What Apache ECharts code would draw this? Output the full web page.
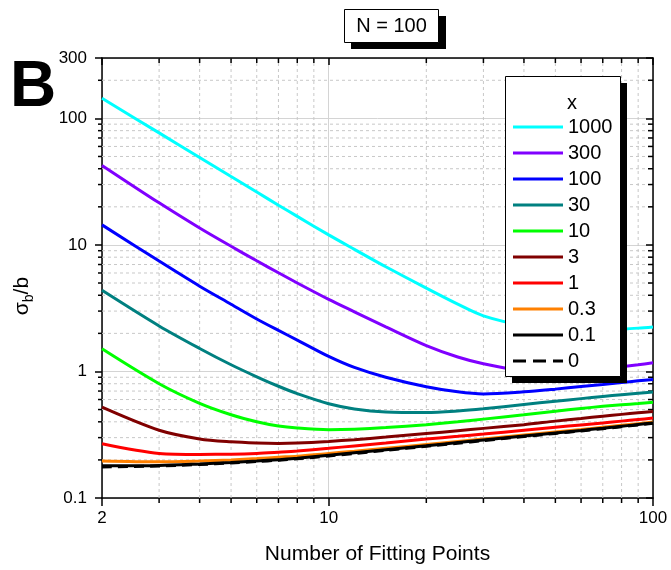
<!DOCTYPE html>
<html>
<head>
<meta charset="utf-8">
<script src="https://cdn.jsdelivr.net/npm/echarts@6/dist/echarts.min.js"></script>
<style>
  html, body { margin: 0; padding: 0; background: #fff; }
  #chart { width: 671px; height: 570px; }
</style>
</head>
<body>
<div id="chart"></div>
<script>
// number of fitting points
const nPts = [2, 3, 4, 5, 6, 7, 8, 10, 12, 15, 20, 25, 30, 40, 50, 60, 70, 80, 90, 100];

// sigma_b / b for each x
const x1000 = [144, 76.8, 49.1, 34.7, 26.2, 20.6, 16.8, 12.0, 9.23, 6.72, 4.55, 3.4, 2.75, 2.3, 2.17, 2.13, 2.13, 2.16, 2.2, 2.25];
const x300 = [42.5, 21.5, 13.6, 9.75, 7.49, 6.02, 5.0, 3.71, 2.96, 2.25, 1.6, 1.3, 1.15, 1.01, 0.98, 1.0, 1.04, 1.09, 1.13, 1.17];
const x100 = [14.4, 7.45, 4.72, 3.4, 2.6, 2.11, 1.77, 1.315, 1.076, 0.9, 0.757, 0.69, 0.665, 0.69, 0.725, 0.76, 0.79, 0.818, 0.843, 0.865];
const x30 = [4.38, 2.29, 1.52, 1.13, 0.908, 0.764, 0.668, 0.556, 0.506, 0.479, 0.4745, 0.4875, 0.507, 0.548, 0.582, 0.61, 0.634, 0.655, 0.673, 0.689];
const x10 = [1.51, 0.8, 0.56, 0.455, 0.4, 0.37, 0.357, 0.347, 0.35, 0.36, 0.38, 0.4, 0.42, 0.455, 0.485, 0.51, 0.53, 0.545, 0.558, 0.572];
const x3 = [0.522, 0.343, 0.293, 0.278, 0.272, 0.27, 0.272, 0.28, 0.289, 0.303, 0.323, 0.34, 0.355, 0.38, 0.405, 0.425, 0.443, 0.458, 0.471, 0.483];
const x1 = [0.268, 0.225, 0.221, 0.222, 0.225, 0.23, 0.235, 0.247, 0.258, 0.272, 0.292, 0.307, 0.32, 0.343, 0.362, 0.378, 0.392, 0.405, 0.417, 0.428];
const x03 = [0.196, 0.193, 0.196, 0.2, 0.205, 0.21, 0.214, 0.225, 0.234, 0.247, 0.265, 0.28, 0.293, 0.315, 0.333, 0.348, 0.362, 0.375, 0.387, 0.398];
const x01 = [0.18, 0.181, 0.186, 0.191, 0.196, 0.201, 0.206, 0.218, 0.228, 0.241, 0.259, 0.274, 0.287, 0.309, 0.327, 0.342, 0.356, 0.369, 0.381, 0.392];
const x0 = [0.176, 0.179, 0.184, 0.189, 0.194, 0.199, 0.204, 0.215, 0.225, 0.238, 0.256, 0.271, 0.284, 0.306, 0.324, 0.339, 0.353, 0.366, 0.378, 0.389];

const xNames = ['1000', '300', '100', '30', '10', '3', '1', '0.3', '0.1', '0'];
const xColors = ['#00ffff', '#8000ff', '#0000ff', '#008080', '#00ff00', '#800000', '#ff0000', '#ff8000', '#000000', '#000000'];
const xValues = [x1000, x300, x100, x30, x10, x3, x1, x03, x01, x0];

// axis ranges and minor ticks
const xMin = 2, xMax = 100;
const yMin = 0.1, yMax = 300;
const xMinor = [3, 4, 5, 6, 7, 8, 9, 20, 30, 40, 50, 60, 70, 80, 90];
const yMinor = [0.2, 0.3, 0.4, 0.5, 0.6, 0.7, 0.8, 0.9, 2, 3, 4, 5, 6, 7, 8, 9, 20, 30, 40, 50, 60, 70, 80, 90, 200];

const font = 'Liberation Sans, Arial, sans-serif';
const minorGrid = { stroke: '#c8c8c8', lineWidth: 1, lineDash: [3, 3] };
const tickStyle = { stroke: '#000', lineWidth: 1.5 };
const solidIcon = 'path://M0,0H50V3H0Z';
const dashIcon = 'path://M0,0H13V3H0Z M20,0H33V3H20Z M40,0H50V3H40Z';

let myChart = echarts.init(document.getElementById('chart'));

const lineSeries = xNames.map((name, i) => ({
    name: name,
    type: 'line',
    symbol: 'none',
    smooth: 0.3,
    z: 5 + i,
    lineStyle: { color: xColors[i], width: 3, type: name === '0' ? [10, 6] : 'solid' },
    itemStyle: { color: xColors[i] },
    data: nPts.map((n, j) => [n, xValues[i][j]])
}));

myChart.setOption({
    animation: false,
    textStyle: { fontFamily: font },
    grid: { left: 102, right: 18, top: 58, bottom: 68 },
    xAxis: [{
        type: 'log', logBase: 10, min: xMin, max: xMax,
        name: 'Number of Fitting Points', nameLocation: 'middle', nameGap: 46,
        nameTextStyle: { fontSize: 21, color: '#000', fontFamily: font },
        axisLine: { lineStyle: { color: '#000', width: 1.5 } },
        axisTick: { inside: false, length: 8, lineStyle: { color: '#000', width: 1.5 } },
        axisLabel: { fontSize: 17, color: '#000', margin: 12, fontFamily: font },
        splitLine: { show: true, lineStyle: { color: '#d4d4d4', width: 1 } }
    }, {
        type: 'log', logBase: 10, min: xMin, max: xMax, position: 'top',
        axisLine: { lineStyle: { color: '#000', width: 1.5 } },
        axisTick: { inside: true, length: 7, lineStyle: { color: '#000', width: 1.5 } },
        axisLabel: { show: false },
        splitLine: { show: false }
    }],
    yAxis: [{
        type: 'log', logBase: 10, min: yMin, max: yMax,
        name: '{a|σ}{s|b}{a|/b}', nameLocation: 'middle', nameGap: 66, nameRotate: 90,
        nameTextStyle: {
            color: '#000', fontFamily: font, padding: [0, 36, 0, 0],
            rich: {
                a: { fontSize: 21, color: '#000', fontFamily: font, verticalAlign: 'top' },
                s: { fontSize: 14, color: '#000', fontFamily: font, verticalAlign: 'top', padding: [10, 0, 0, 0] }
            }
        },
        axisLine: { lineStyle: { color: '#000', width: 1.5 } },
        axisTick: { inside: false, length: 7, lineStyle: { color: '#000', width: 1.5 } },
        axisLabel: { fontSize: 17, color: '#000', margin: 15, fontFamily: font, showMinLabel: true, showMaxLabel: true },
        splitLine: { show: true, lineStyle: { color: '#d4d4d4', width: 1 } }
    }, {
        type: 'log', logBase: 10, min: yMin, max: yMax, position: 'right',
        axisLine: { lineStyle: { color: '#000', width: 1.5 } },
        axisTick: { inside: true, length: 7, lineStyle: { color: '#000', width: 1.5 } },
        axisLabel: { show: false },
        splitLine: { show: false }
    }],
    legend: {
        orient: 'vertical', left: 513, top: 117, padding: 0,
        itemWidth: 50, itemHeight: 16, itemGap: 6,
        symbolKeepAspect: true,
        selectedMode: false,
        textStyle: { fontSize: 20, color: '#000', fontFamily: font },
        data: xNames.map(name => ({ name: name, icon: name === '0' ? dashIcon : solidIcon })),
        z: 20
    },
    graphic: [
        { type: 'text', left: 10, top: 56, z: 20,
          style: { text: 'B', fontSize: 64, fontWeight: 'bold', fill: '#000', font: 'bold 64px ' + font } },
        { type: 'rect', shape: { x: 351, y: 16, width: 95, height: 33 }, style: { fill: '#000' }, z: 20 },
        { type: 'rect', shape: { x: 344.5, y: 9.5, width: 94, height: 33 }, style: { fill: '#fff', stroke: '#000', lineWidth: 1 }, z: 21 },
        { type: 'text', x: 391.5, y: 26.5, z: 22,
          style: { text: 'N = 100', font: '20px ' + font, fill: '#000', align: 'center', verticalAlign: 'middle' } },
        { type: 'rect', shape: { x: 512, y: 83, width: 115, height: 300 }, style: { fill: '#000' }, z: 15 },
        { type: 'rect', shape: { x: 505.5, y: 76.5, width: 115, height: 300 }, style: { fill: '#fff', stroke: '#000', lineWidth: 1 }, z: 16 },
        { type: 'text', x: 572, y: 103, z: 22,
          style: { text: 'x', font: '20px ' + font, fill: '#000', align: 'center', verticalAlign: 'middle' } }
    ],
    series: [{
        type: 'custom', z: 1, silent: true,
        xAxisIndex: 0, yAxisIndex: 0,
        data: xMinor.map(v => [v, 1]),
        renderItem: function (params, api) {
            const v = api.value(0);
            const b = api.coord([v, yMin]);
            const t = api.coord([v, yMax]);
            return { type: 'group', children: [
                { type: 'line', shape: { x1: b[0], y1: b[1], x2: t[0], y2: t[1] }, style: minorGrid },
                { type: 'line', shape: { x1: b[0], y1: b[1], x2: b[0], y2: b[1] + 5 }, style: tickStyle },
                { type: 'line', shape: { x1: t[0], y1: t[1], x2: t[0], y2: t[1] + 5 }, style: tickStyle }
            ] };
        }
    }, {
        type: 'custom', z: 1, silent: true,
        xAxisIndex: 0, yAxisIndex: 0,
        data: yMinor.map(v => [10, v]),
        renderItem: function (params, api) {
            const v = api.value(1);
            const l = api.coord([xMin, v]);
            const r = api.coord([xMax, v]);
            return { type: 'group', children: [
                { type: 'line', shape: { x1: l[0], y1: l[1], x2: r[0], y2: r[1] }, style: minorGrid },
                { type: 'line', shape: { x1: l[0], y1: l[1], x2: l[0] - 4, y2: l[1] }, style: tickStyle },
                { type: 'line', shape: { x1: r[0], y1: r[1], x2: r[0] - 5, y2: r[1] }, style: tickStyle }
            ] };
        }
    }].concat(lineSeries)
});
</script>
</body>
</html>
